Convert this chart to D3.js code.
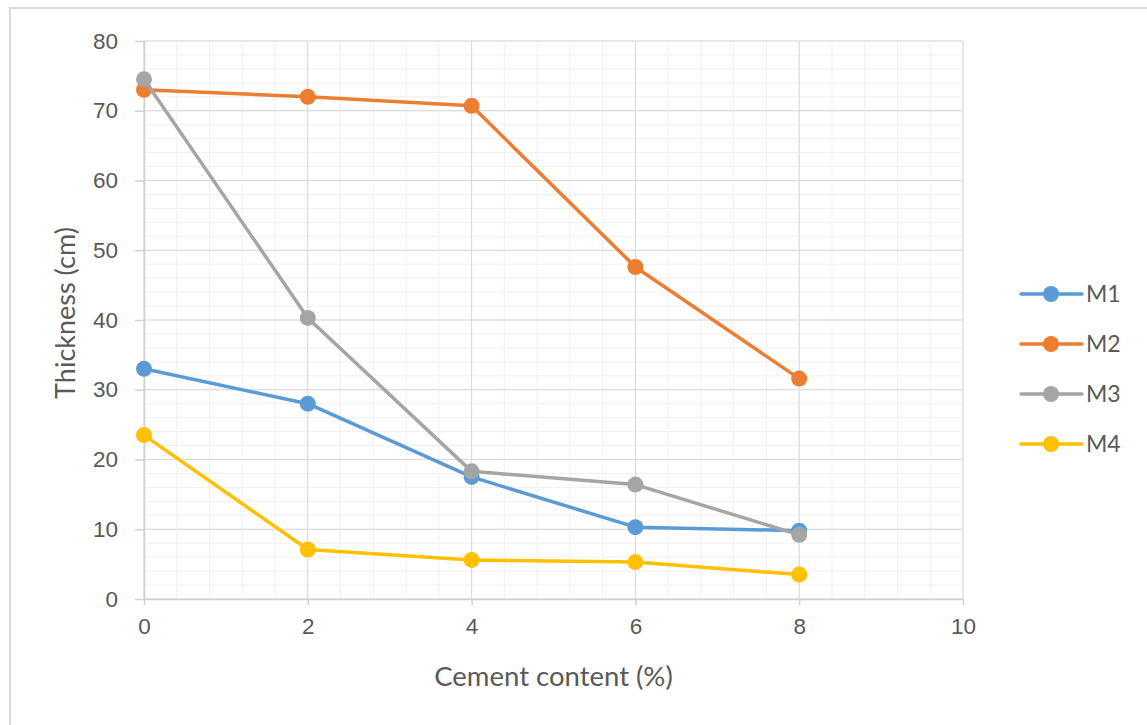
<!DOCTYPE html>
<html>
<head>
<meta charset="utf-8">
<script src="https://cdn.jsdelivr.net/npm/d3@7"></script>
<style>
  body { margin: 0; background: #fff; }
  svg { display: block; font-family: Lato, "Open Sans", sans-serif; }
</style>
</head>
<body>
<div id="chart"></div>
<script>
// Data
var cement = [0, 2, 4, 6, 8];
var seriesNames = ["M1", "M2", "M3", "M4"];
var m1 = [33.0, 28.0, 17.5, 10.3, 9.8];
var m2 = [73.0, 72.0, 70.7, 47.6, 31.6];
var m3 = [74.5, 40.3, 18.3, 16.4, 9.2];
var m4 = [23.5, 7.1, 5.6, 5.3, 3.5];
var xTicks = [0, 2, 4, 6, 8, 10];
var yTicks = [0, 10, 20, 30, 40, 50, 60, 70, 80];
var colors = ["#5b9bd5", "#ed7d31", "#a5a5a5", "#ffc000"];

var width = 1147, height = 725;
var margin = {top: 41, left: 144, bottom: 126, right: 184};

var svg = d3.select("#chart").append("svg")
  .attr("width", width)
  .attr("height", height);

// outer chart frame
svg.append("rect")
  .attr("x", 10).attr("y", 8)
  .attr("width", width + 10).attr("height", height + 10)
  .attr("fill", "none")
  .attr("stroke", "#d9d9d9")
  .attr("stroke-width", 2);

var x = d3.scaleLinear().domain([0, 10]).range([margin.left, width - margin.right]);
var y = d3.scaleLinear().domain([0, 80]).range([height - margin.bottom, margin.top]);

// minor gridlines
svg.append("g").selectAll("line")
  .data(d3.range(0, 10.001, 0.4))
  .enter().append("line")
  .attr("x1", d => x(d)).attr("x2", d => x(d))
  .attr("y1", y(0)).attr("y2", y(80))
  .attr("stroke", "#f0f0f0").attr("stroke-width", 1);
svg.append("g").selectAll("line")
  .data(d3.range(0, 80.001, 2))
  .enter().append("line")
  .attr("x1", x(0)).attr("x2", x(10))
  .attr("y1", d => y(d)).attr("y2", d => y(d))
  .attr("stroke", "#f0f0f0").attr("stroke-width", 1);

// major gridlines
svg.append("g").selectAll("line")
  .data(xTicks)
  .enter().append("line")
  .attr("x1", d => x(d)).attr("x2", d => x(d))
  .attr("y1", y(0)).attr("y2", y(80))
  .attr("stroke", "#d9d9d9").attr("stroke-width", 1);
svg.append("g").selectAll("line")
  .data(yTicks)
  .enter().append("line")
  .attr("x1", x(0)).attr("x2", x(10))
  .attr("y1", d => y(d)).attr("y2", d => y(d))
  .attr("stroke", "#d9d9d9").attr("stroke-width", 1);

// axes
var xAxis = svg.append("g")
  .attr("transform", "translate(0," + y(0) + ")")
  .call(d3.axisBottom(x).tickValues(xTicks).tickSizeInner(6).tickSizeOuter(0).tickPadding(13));
var yAxis = svg.append("g")
  .attr("transform", "translate(" + x(0) + ",0)")
  .call(d3.axisLeft(y).tickValues(yTicks).tickSizeInner(9).tickSizeOuter(0).tickPadding(17));
[xAxis, yAxis].forEach(function(a) {
  a.select(".domain").attr("stroke", "#d0d0d0").attr("stroke-width", 1.5);
  a.selectAll(".tick line").attr("stroke", "#d0d0d0").attr("stroke-width", 1.5);
  a.selectAll(".tick text").attr("fill", "#595959").style("font-size", "22.5px");
});

// axis titles
svg.append("text")
  .attr("x", x(5)).attr("y", 686)
  .attr("text-anchor", "middle")
  .attr("fill", "#595959")
  .style("font-size", "27.5px")
  .text("Cement content (%)");
svg.append("text")
  .attr("transform", "translate(75," + y(41) + ") rotate(-90)")
  .attr("text-anchor", "middle")
  .attr("fill", "#595959")
  .style("font-size", "27px")
  .text("Thickness (cm)");

// series
var allSeries = [m1, m2, m3, m4];
var line = d3.line()
  .x((d, i) => x(cement[i]))
  .y(d => y(d));

allSeries.forEach(function(vals, s) {
  var g = svg.append("g");
  g.append("path")
    .datum(vals)
    .attr("d", line)
    .attr("fill", "none")
    .attr("stroke", colors[s])
    .attr("stroke-width", 3.5)
    .attr("stroke-linejoin", "round");
  g.selectAll("circle")
    .data(vals)
    .enter().append("circle")
    .attr("cx", (d, i) => x(cement[i]))
    .attr("cy", d => y(d))
    .attr("r", 8)
    .attr("fill", colors[s]);
});

// legend
var legend = svg.append("g").selectAll("g")
  .data(seriesNames)
  .enter().append("g")
  .attr("transform", (d, i) => "translate(1021," + (294 + i * 50) + ")");
legend.append("line")
  .attr("x1", 0).attr("x2", 61)
  .attr("stroke", (d, i) => colors[i])
  .attr("stroke-width", 3.5)
  .attr("stroke-linecap", "round");
legend.append("circle")
  .attr("cx", 30).attr("r", 8)
  .attr("fill", (d, i) => colors[i]);
legend.append("text")
  .attr("x", 65).attr("dy", "0.36em")
  .attr("fill", "#595959")
  .style("font-size", "23px")
  .text(d => d);
</script>
</body>
</html>
